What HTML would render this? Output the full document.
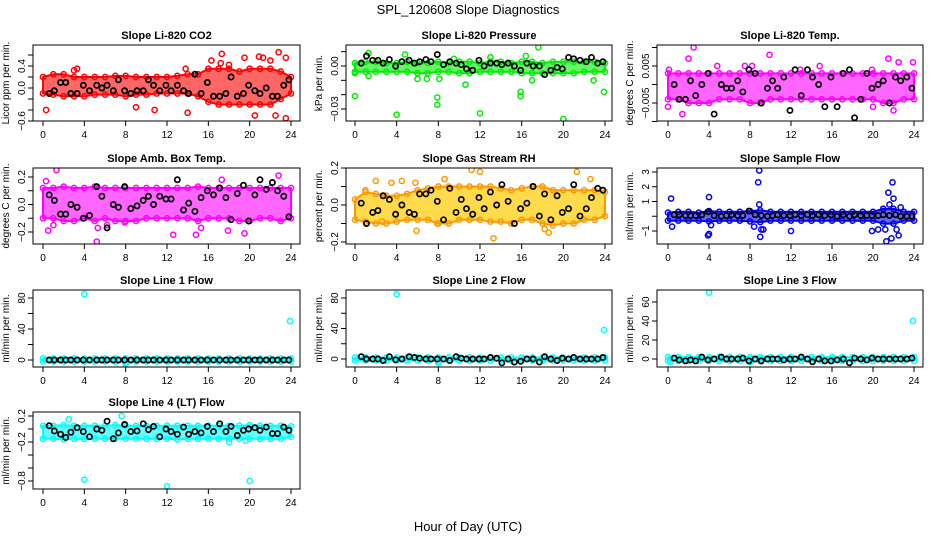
<!DOCTYPE html>
<html><head><meta charset="utf-8"><style>
html,body{margin:0;padding:0;background:#fff}
svg{display:block;font-family:"Liberation Sans",sans-serif}
</style></head><body>
<svg id="chart" width="936" height="540" viewBox="0 0 936 540" xmlns="http://www.w3.org/2000/svg">
<rect x="0" y="0" width="936" height="540" fill="#fff"/>
<text x="468" y="14" text-anchor="middle" font-size="13">SPL_120608  Slope Diagnostics</text>
<text x="468" y="531" text-anchor="middle" font-size="13">Hour of Day (UTC)</text>
</svg>
<script>
// shared x-axis data
const xTickValues = [0,4,8,12,16,20,24];
const bandHours = [0,1,2,3,4,5,6,7,8,9,10,11,12,13,14,15,16,17,18,19,20,21,22,23,24];
const blackTimes = [0.6,1.1,1.7,2.2,2.7,3.3,3.9,4.5,5.2,5.7,6.2,6.8,7.3,7.9,8.5,9.1,9.7,10.2,10.7,11.3,11.9,12.4,13,13.6,14.1,14.7,15.3,15.9,16.5,17.1,17.7,18.2,18.8,19.4,19.9,20.5,21,21.6,22.2,22.7,23.3,23.8];

// CO2
const co2Hi = [0.2,0.25,0.25,0.2,0.2,0.2,0.2,0.22,0.22,0.2,0.2,0.2,0.2,0.22,0.25,0.25,0.35,0.35,0.35,0.3,0.35,0.35,0.35,0.3,0.2];
const co2Lo = [-0.1,-0.12,-0.15,-0.15,-0.15,-0.12,-0.12,-0.12,-0.15,-0.12,-0.12,-0.1,-0.1,-0.1,-0.1,-0.15,-0.25,-0.3,-0.3,-0.3,-0.3,-0.3,-0.3,-0.2,-0.1];
const co2OutT = [0.3,3,3.3,9,10.8,13.8,14,15.8,16.3,17.2,17.3,17.2,18,18.3,19.5,20.9,21.3,21.6,22,22.8,23.5,23.5,22.5,20.5];
const co2OutV = [-0.4,0.32,0.35,-0.35,-0.4,0.35,-0.45,-0.7,0.5,-0.8,0.62,0.45,0.42,-0.7,0.55,0.57,0.55,-0.7,0.5,0.65,0.55,-0.55,-0.5,-0.5];
const co2Black = [-0.1,-0.05,0.1,0.1,-0.1,-0.1,0.05,-0.05,0.05,0,0.05,-0.05,0.15,-0.05,-0.1,-0.05,-0.05,0.15,0.05,-0.05,0.05,-0.05,0.05,-0.05,-0.1,0.25,-0.1,0.1,-0.15,-0.15,-0.1,0.2,-0.15,-0.1,0.05,-0.05,-0.1,0,-0.15,-0.15,0.05,0.15];
// Pressure
const presHi = [0.002,0.003,0.003,0.002,0.002,0.003,0.002,0.002,0.003,0.002,0.003,0.003,0.002,0.003,0.003,0.002,0.003,0.003,0.002,0.003,0.003,0.003,0.003,0.003,0.002];
const presLo = [-0.004,-0.004,-0.004,-0.004,-0.004,-0.004,-0.005,-0.005,-0.004,-0.004,-0.005,-0.005,-0.004,-0.004,-0.004,-0.004,-0.005,-0.005,-0.005,-0.005,-0.005,-0.005,-0.004,-0.004,-0.004];
const presOutT = [0,1.3,4,4.8,7.9,7.9,8.1,10.6,12,15.9,15.9,16.4,17.6,20,23.9,1.3,6,6.9,17,22.9,0,9.5,13];
const presOutV = [-0.021,0.009,-0.034,0.008,-0.022,-0.027,-0.009,-0.013,-0.033,-0.018,-0.021,0.007,0.013,-0.037,-0.018,-0.007,-0.009,-0.009,-0.010,-0.01,-0.005,0.005,0.006];
const presBlack = [0.002,0.007,0.004,0.004,0.002,0.0045,0.0,0.003,0.004,0.002,0.003,0.0045,0.003,0.008,0.001,0.003,0.002,0.001,-0.002,-0.003,0.004,0.0,0.002,0.002,0.001,0.002,0.0,-0.003,0.002,0.0,0.0,-0.006,-0.003,-0.001,-0.002,0.006,0.005,0.004,0.003,0.006,0.002,0.003];
// Li-820 Temp
const tempHi = [0.003,0.003,0.003,0.003,0.003,0.003,0.003,0.003,0.003,0.003,0.003,0.003,0.003,0.003,0.003,0.003,0.003,0.003,0.003,0.003,0.003,0.003,0.003,0.003,0.003];
const tempLo = [-0.004,-0.004,-0.005,-0.005,-0.005,-0.004,-0.004,-0.004,-0.005,-0.005,-0.004,-0.004,-0.004,-0.004,-0.004,-0.004,-0.004,-0.004,-0.004,-0.004,-0.004,-0.005,-0.005,-0.004,-0.004];
const tempOutT = [0,1.4,2.5,3.4,2,9.9,0.1,4.8,7.5,8.2,14.8,19.9,20,21.5,22,22.5,23.9,12.9];
const tempOutV = [-0.006,-0.008,0.01,-0.012,0.007,0.008,0.004,0.005,0.005,0.005,0.005,0.004,-0.006,0.007,-0.007,0.006,0.006,0.004];
const tempBlack = [0.0,-0.004,-0.004,0.001,-0.003,0.0,0.003,-0.008,0,-0.001,-0.001,0.001,-0.002,0.004,0.003,-0.005,-0.001,0.001,-0.001,0.002,-0.007,0.004,-0.003,0.004,0.002,0,-0.006,0.002,-0.006,0.003,0.004,-0.009,-0.004,0.003,-0.001,0,0.001,-0.005,0.002,0.001,0.002,-0.001];
// Amb box temp
const ambHi = [0.12,0.12,0.13,0.12,0.12,0.13,0.12,0.12,0.12,0.12,0.12,0.12,0.12,0.12,0.12,0.13,0.12,0.12,0.12,0.12,0.12,0.12,0.12,0.12,0.12];
const ambLo = [-0.1,-0.1,-0.12,-0.12,-0.1,-0.12,-0.1,-0.12,-0.12,-0.12,-0.1,-0.1,-0.1,-0.1,-0.1,-0.12,-0.1,-0.1,-0.1,-0.12,-0.12,-0.1,-0.1,-0.12,-0.1];
const ambOutT = [0.3,0.5,1,1.3,5.2,5.3,12.6,14.8,15.3,17.9,19.5,22.8,6.2,7.9,17.3];
const ambOutV = [0.17,-0.19,-0.15,0.25,-0.27,-0.17,-0.22,-0.22,-0.17,-0.19,-0.21,0.21,-0.15,-0.13,0.18];
const ambBlack = [0.07,0.03,-0.07,-0.07,0,-0.02,-0.1,-0.08,0.13,0.06,-0.17,0.0,-0.02,0.13,-0.03,-0.01,0.03,0.06,0,0.06,0.04,0.04,0.18,-0.04,0.01,-0.05,0.05,0.1,0.07,0.12,0.05,-0.11,0.08,0.14,-0.12,0.07,0.18,0.11,0.16,0.1,0.06,-0.09];
// Gas stream RH
const rhHi = [0.03,0.07,0.06,0.05,0.05,0.06,0.08,0.09,0.1,0.1,0.1,0.1,0.1,0.1,0.09,0.08,0.09,0.1,0.1,0.08,0.08,0.08,0.08,0.08,0.07];
const rhLo = [-0.08,-0.09,-0.1,-0.1,-0.09,-0.08,-0.08,-0.08,-0.1,-0.1,-0.08,-0.08,-0.08,-0.09,-0.09,-0.1,-0.08,-0.08,-0.1,-0.11,-0.1,-0.1,-0.08,-0.08,-0.06];
const rhOutT = [2,3.5,4.5,5.9,8.6,11.2,12,13.3,18.2,18.6,21.3,22.6,1,2.6,5.8,7.9];
const rhOutV = [0.13,0.12,0.13,-0.14,0.14,0.19,0.18,-0.18,-0.13,-0.15,0.18,0.14,0.08,-0.09,0.12,-0.1];
const rhBlack = [0.01,-0.1,-0.04,-0.03,0.05,0.03,-0.05,0,-0.04,-0.05,0.06,0.06,0.08,0.02,-0.08,0.09,-0.04,0.03,-0.02,-0.05,0.04,-0.02,0.07,0.0,0.11,0.02,-0.1,-0.02,0.01,0.1,-0.06,0.06,-0.08,0.05,-0.04,-0.02,0.11,-0.06,-0.02,0.04,0.09,0.08];
// Sample flow
const sfHi = [0.25,0.3,0.3,0.25,0.35,0.3,0.3,0.3,0.35,0.4,0.3,0.3,0.3,0.3,0.3,0.3,0.3,0.3,0.3,0.3,0.3,0.5,0.5,0.3,0.3];
const sfLo = [-0.3,-0.3,-0.3,-0.3,-0.35,-0.3,-0.3,-0.3,-0.35,-0.4,-0.3,-0.3,-0.3,-0.3,-0.3,-0.3,-0.3,-0.3,-0.3,-0.3,-0.3,-0.5,-0.5,-0.3,-0.3];
const sfOutT = [0.3,0.4,4,4,3.9,4.2,8.4,8.8,8.9,8.9,9,9.1,9.3,12,19.9,20.5,21.3,21.5,21.9,22,21.6,21,22.3,22.5,21.2,21.8,22.7];
const sfOutV = [1.2,-0.7,1.3,-1.2,-1.3,-0.6,-0.7,2.3,3.1,0.8,-1.4,-0.9,-0.9,-1,-1,-0.9,-1.7,1.6,2.3,1.2,0.8,0.5,-0.9,-1.3,-0.9,-1.5,0.6];
const sfBlack = [0.1,0.1,0.05,0.05,0.05,0.1,0.3,0.05,0,0.05,0.1,0.05,0.05,0.35,0.1,0.05,0,0.05,0.1,0.05,0.05,0.1,0.05,0.1,0.05,0.1,0.05,0.1,0,0.1,0,0.1,0.05,0.05,0.05,0.05,0.1,0.05,0.1,0,0,0];
// Line flows 1-3
const lfHi = [2,2,2,2,2,2,2,2,2,2,2,2,2,2,2,2,2,2,2,2,2,2,2,2,2];
const lfLo = [-2,-2,-2,-2,-2,-2,-2,-2,-3,-2,-2,-2,-2,-2,-2,-2,-2,-2,-2,-2,-2,-2,-2,-2,-2];
const l1OutT = [4,23.9,8];
const l1OutV = [85,50,-5];
const l2OutT = [4,23.9,8];
const l2OutV = [85,38,-5];
const l3OutT = [4,23.9,0.2];
const l3OutV = [70,40,-3];
const l1Black = [0,0,0,0,0,0,0,0,0,0,0,0,0,0,0,0,0,0,0,0,0,0,0,0,0,0,0,0,0,0,0,0,0,0,0,0,0,0,0,0,0,0];
const l2Black = [3,0,0,0,-2,3,-1,0,3,2,1,0,0,0,0,-2,3,1,0,0,0,0,2,1,-5,0,-4,-3,0,0,-4,3,0,-2,1,0,2,0,0,0,0,2];
const l3Black = [1,-1,-2,-1,-2,2,-1,0,2,0,0,0,1,-2,0,-2,0,0,0,-1,0,0,2,0,-3,0,-2,-2,-1,0,-4,1,0,-1,1,0,0,0,0,0,0,1];
// Line 4 flow
const l4Hi = [0.05,0.05,0.06,0.05,0.05,0.05,0.05,0.06,0.05,0.05,0.05,0.05,0.05,0.05,0.05,0.05,0.05,0.05,0.05,0.05,0.06,0.05,0.05,0.05,0.04];
const l4Lo = [-0.15,-0.15,-0.16,-0.15,-0.15,-0.15,-0.15,-0.15,-0.15,-0.15,-0.15,-0.15,-0.15,-0.16,-0.15,-0.15,-0.15,-0.15,-0.15,-0.15,-0.15,-0.15,-0.15,-0.15,-0.12];
const l4OutT = [4,12,20,7.6,2.5,18,19.6];
const l4OutV = [-0.78,-0.88,-0.8,0.2,0.15,-0.2,-0.18];
const l4Black = [0.05,-0.03,-0.08,-0.13,-0.05,0.02,-0.04,-0.12,0.0,-0.02,0.12,-0.15,-0.06,0.07,-0.04,-0.03,0.08,-0.01,0.04,-0.12,0,-0.04,-0.08,0.03,-0.08,-0.04,-0.06,0.04,-0.04,0.08,-0.04,0.04,-0.1,-0.02,0.0,0.02,-0.02,0.03,-0.07,-0.07,0.03,-0.02];

const NS = 'http://www.w3.org/2000/svg';
const svg = document.getElementById('chart');
function mk(tag, attrs, parent){const e=document.createElementNS(NS,tag);for(const k in attrs)e.setAttribute(k,attrs[k]);(parent||svg).appendChild(e);return e;}

const cols = [{l:33,r:300,x0:43,x24:291},{l:346,r:612,x0:355,x24:605},{l:657,r:923,x0:668,x24:914}];
const rows = [{t:45,b:121},{t:168,b:244},{t:290,b:367},{t:412,b:489}];

const panels = [
 {key:'co2',title:'Slope Li-820 CO2',ylab:'Licor ppm per min.',c:0,r:0,col:'#ff0000',va:0,pa:88,vb:0.4,pb:66,ticks:[0.6,0.4,0.2,0,-0.2,-0.4,-0.6],labels:['0.4','0.0','-0.6'],lv:[0.4,0,-0.6],hi:co2Hi,lo:co2Lo,ot:co2OutT,ov:co2OutV,bk:co2Black},
 {key:'pressure',title:'Slope Li-820 Pressure',ylab:'kPa per min.',c:1,r:0,col:'#00ee00',va:0,pa:66,vb:-0.03,pb:109,ticks:[0.01,0,-0.01,-0.02,-0.03,-0.04],labels:['0.00','-0.03'],lv:[0,-0.03],hi:presHi,lo:presLo,ot:presOutT,ov:presOutV,bk:presBlack},
 {key:'li820-temp',title:'Slope Li-820 Temp.',ylab:'degrees C per min.',c:2,r:0,col:'#ff00ff',va:0.005,pa:66,vb:-0.005,pb:103,ticks:[0.01,0.005,0,-0.005,-0.01],labels:['0.005','-0.005'],lv:[0.005,-0.005],hi:tempHi,lo:tempLo,ot:tempOutT,ov:tempOutV,bk:tempBlack},
 {key:'amb-box-temp',title:'Slope Amb. Box Temp.',ylab:'degrees C per min.',c:0,r:1,col:'#ff00ff',va:0.2,pa:177,vb:-0.2,pb:232,ticks:[0.2,0.1,0,-0.1,-0.2],labels:['0.2','0.0','-0.2'],lv:[0.2,0,-0.2],hi:ambHi,lo:ambLo,ot:ambOutT,ov:ambOutV,bk:ambBlack},
 {key:'gas-rh',title:'Slope Gas Stream RH',ylab:'percent per min.',c:1,r:1,col:'#ff9900',col2:'#ffcc00',va:0.2,pa:168,vb:-0.2,pb:242,ticks:[0.2,0.1,0,-0.1,-0.2],labels:['0.2','0.0','-0.2'],lv:[0.2,0,-0.2],hi:rhHi,lo:rhLo,ot:rhOutT,ov:rhOutV,bk:rhBlack},
 {key:'sample-flow',title:'Slope Sample Flow',ylab:'ml/min per min.',c:2,r:1,col:'#0000ee',va:3,pa:172,vb:-1,pb:231,ticks:[3,2,1,0,-1],labels:['3','2','1','-1'],lv:[3,2,1,-1],hi:sfHi,lo:sfLo,ot:sfOutT,ov:sfOutV,bk:sfBlack},
 {key:'line1-flow',title:'Slope Line 1 Flow',ylab:'ml/min per min.',c:0,r:2,col:'#00ffff',va:80,pa:298,vb:0,pb:360,ticks:[80,60,40,20,0],labels:['80','40','0'],lv:[80,40,0],hi:lfHi,lo:lfLo,ot:l1OutT,ov:l1OutV,bk:l1Black},
 {key:'line2-flow',title:'Slope Line 2 Flow',ylab:'ml/min per min.',c:1,r:2,col:'#00ffff',va:80,pa:298,vb:0,pb:359,ticks:[80,60,40,20,0],labels:['80','40','0'],lv:[80,40,0],hi:lfHi,lo:lfLo,ot:l2OutT,ov:l2OutV,bk:l2Black},
 {key:'line3-flow',title:'Slope Line 3 Flow',ylab:'ml/min per min.',c:2,r:2,col:'#00ffff',va:60,pa:302,vb:0,pb:359,ticks:[60,40,20,0],labels:['60','40','20','0'],lv:[60,40,20,0],hi:lfHi,lo:lfLo,ot:l3OutT,ov:l3OutV,bk:l3Black},
 {key:'line4-flow',title:'Slope Line 4 (LT) Flow',ylab:'ml/min per min.',c:0,r:3,col:'#00ffff',va:0.2,pa:416,vb:-0.8,pb:481,ticks:[0.2,0,-0.2,-0.4,-0.6,-0.8],labels:['0.2','-0.2','-0.8'],lv:[0.2,-0.2,-0.8],hi:l4Hi,lo:l4Lo,ot:l4OutT,ov:l4OutV,bk:l4Black}
];

panels.forEach(p=>{
  const C=cols[p.c], R=rows[p.r];
  const xs = t => C.x0 + (C.x24-C.x0)*t/24;
  const ys = v => p.pa + (p.pb-p.pa)*(v-p.va)/(p.vb-p.va);
  const g = mk('g',{});
  
  
  const clipId='clip-'+p.key;
  const cp=mk('clipPath',{id:clipId},g); mk('rect',{x:C.l,y:R.t,width:C.r-C.l,height:R.b-R.t},cp);
  const plot = mk('g',{'clip-path':'url(#'+clipId+')'},g);
  let d='';
  bandHours.forEach((h,i)=>{d+=(i?'L':'M')+xs(h).toFixed(1)+','+ys(p.hi[i]).toFixed(1);});
  for(let i=bandHours.length-1;i>=0;i--) d+='L'+xs(bandHours[i]).toFixed(1)+','+ys(p.lo[i]).toFixed(1);
  const band = mk('path',{d:d+'Z',fill:p.col2||p.col,'fill-opacity':p.col2?0.7:0.6,stroke:p.col,'stroke-width':2,'stroke-linejoin':'round'},plot);
  
  
  bandHours.forEach((h,i)=>{
    [p.hi[i],p.lo[i]].forEach(v=>{
      const c=mk('circle',{cx:xs(h),cy:ys(v),r:2.6,fill:'none',stroke:p.col,'stroke-width':1.5},plot);
      
      
    });
  });
  p.ot.forEach((t,i)=>{
    const c=mk('circle',{cx:xs(t),cy:ys(p.ov[i]),r:2.6,fill:'none',stroke:p.col,'stroke-width':1.5},plot);
    
    
  });
  blackTimes.forEach((t,i)=>{
    const c=mk('circle',{cx:xs(t),cy:ys(p.bk[i]),r:2.6,fill:'none',stroke:'#000','stroke-width':1.7},plot);
    
    
  });
  const box=mk('rect',{x:C.l,y:R.t,width:C.r-C.l,height:R.b-R.t,fill:'none',stroke:'#000','stroke-width':1},g);
  
  
  const tt=mk('text',{x:(C.l+C.r)/2,y:R.t-6,'text-anchor':'middle','font-size':11,'font-weight':'bold'},g);
  tt.textContent=p.title;
  
  
  const xa=mk('g',{},g);
  
  
  xTickValues.forEach(v=>{
    mk('line',{x1:xs(v),x2:xs(v),y1:R.b,y2:R.b+5,stroke:'#000'},xa);
    const tx=mk('text',{x:xs(v),y:R.b+17,'text-anchor':'middle','font-size':10},xa);
    tx.textContent=v;
    
    
  });
  const ya=mk('g',{},g);
  
  
  p.ticks.forEach(v=>{ if(ys(v)>=R.t-1 && ys(v)<=R.b+1) mk('line',{x1:C.l-5,x2:C.l,y1:ys(v),y2:ys(v),stroke:'#000'},ya); });
  p.lv.forEach((v,i)=>{
    const x=C.l-8, y=ys(v);
    const tx=mk('text',{x:x,y:y,'text-anchor':'middle','font-size':10,transform:'rotate(-90 '+x+' '+y+')'},ya);
    tx.textContent=p.labels[i].replace('-','\u2212');
    
    
  });
  const yx=C.l-24, yy=(R.t+R.b)/2;
  const yt=mk('text',{x:yx,y:yy,'text-anchor':'middle','font-size':10,transform:'rotate(-90 '+yx+' '+yy+')'},g);
  yt.textContent=p.ylab;
  
  
});
</script>
</body></html>
